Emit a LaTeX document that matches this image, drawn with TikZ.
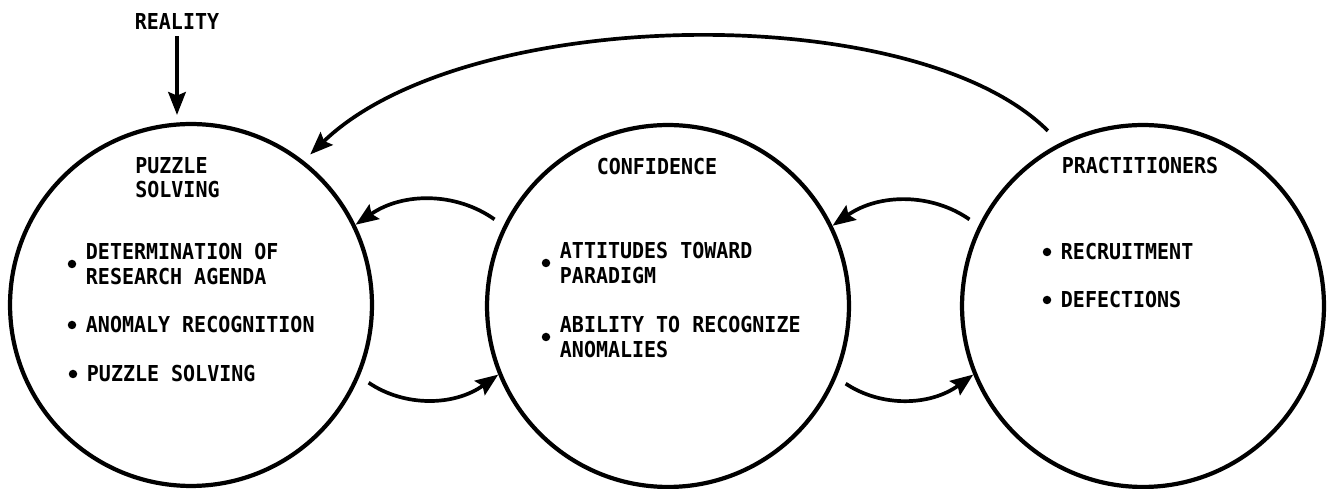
\documentclass[tikz,border=0pt]{standalone}
\usepackage{fontspec}
\usepackage{tikz}
\usetikzlibrary{arrows.meta,positioning}
\newfontfamily\diagfont{DejaVu Sans Mono}[FakeStretch=0.91]

\begin{document}
\begin{tikzpicture}[x=0.02cm, y=0.02cm,
        font=\diagfont\bfseries\fontsize{12.5pt}{13.7pt}\selectfont,
        stage/.style={draw, circle, line width=2.4pt, minimum size=7.24cm, inner sep=0pt},
        dot/.style={fill, circle, inner sep=0pt, minimum size=0.17cm},
        item/.style={align=left, inner sep=0pt, anchor=west},
        flow/.style={-{Stealth[length=13pt, width=10pt, inset=2pt]}, line width=2.1pt}]
            \useasboundingbox (0,0) rectangle (1327,489);

            \node[stage] (puzzle) at (191,184) {};
            \node[stage] (conf) at (668,183) {};
            \node[stage] (prac) at (1143,183) {};

            \node (reality) at (177,467) {REALITY};
            \node[item] (puzzletitle) at (135,311) {PUZZLE\\SOLVING};
            \node (conftitle) at (657,322) {CONFIDENCE};
            \node (practitle) at (1140,323) {PRACTITIONERS};

            % puzzle solving items
            \node[dot] (b1) at (72,225) {};
            \node[dot] (b2) at (72,164) {};
            \node[dot] (b3) at (73,115) {};
            \node[item, right=0.18cm of b1] {DETERMINATION OF\\RESEARCH AGENDA};
            \node[item, right=0.18cm of b2] {ANOMALY RECOGNITION};
            \node[item, right=0.18cm of b3] {PUZZLE SOLVING};

            % confidence items
            \node[dot] (b4) at (546,226) {};
            \node[dot] (b5) at (546,152) {};
            \node[item, right=0.18cm of b4] {ATTITUDES TOWARD\\PARADIGM};
            \node[item, right=0.18cm of b5] {ABILITY TO RECOGNIZE\\ANOMALIES};

            % practitioners items
            \node[dot] (b6) at (1047,237) {};
            \node[dot] (b7) at (1047,189) {};
            \node[item, right=0.18cm of b6] {RECRUITMENT};
            \node[item, right=0.18cm of b7] {DEFECTIONS};

            \draw[flow, shorten >=0.14cm] (reality) -- (reality |- puzzle.north);
            \draw[flow, shorten <=0.34cm, shorten >=0.18cm] (prac.117) .. controls +(135:205) and +(44:225) .. (puzzle.52);

            \draw[flow, shorten <=0.22cm] (conf.154) to[bend right=35] (puzzle.26);
            \draw[flow, shorten <=0.22cm] (puzzle.-23) to[bend right=35] (conf.202);
            \draw[flow, shorten <=0.22cm] (prac.154) to[bend right=35] (conf.26);
            \draw[flow, shorten <=0.22cm] (conf.-23) to[bend right=35] (prac.202);
        \end{tikzpicture}
\end{document}
